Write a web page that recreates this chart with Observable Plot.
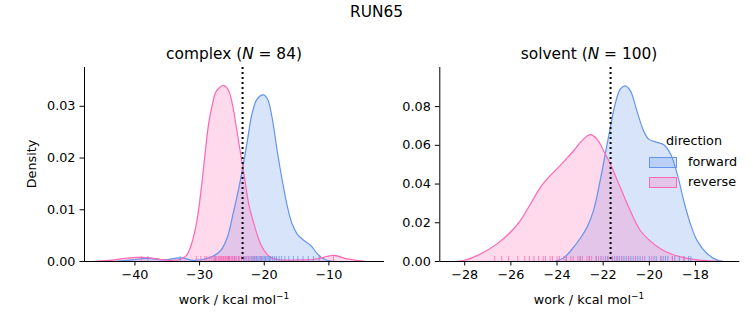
<!DOCTYPE html>
<html>
<head>
<meta charset="utf-8">
<script src="https://cdn.jsdelivr.net/npm/d3@7"></script>
<script src="https://cdn.jsdelivr.net/npm/@observablehq/plot@0.6"></script>
<style>
  body { margin: 0; background: white; }
  #root { position: relative; width: 753px; height: 325px; font-family: "DejaVu Sans", sans-serif; color: black; overflow: hidden; }
  .abs { position: absolute; white-space: nowrap; line-height: 1; }
  .c { transform: translate(-50%, -50%); }
  .lv { transform: translate(0, -50%); }
  sup { font-size: 70%; line-height: 0; vertical-align: 0.55em; }
</style>
</head>
<body>
<div id="root">
  <div id="left" class="abs" style="left:0;top:0"></div>
  <div id="right" class="abs" style="left:395px;top:0"></div>
  <div class="abs c" style="left:376.5px;top:13px;font-size:15.4px">RUN65</div>
  <div class="abs c" style="left:234px;top:54.5px;font-size:15.4px">complex (<i>N</i> = 84)</div>
  <div class="abs c" style="left:589px;top:54.5px;font-size:15.4px">solvent (<i>N</i> = 100)</div>
  <div class="abs c" style="left:31.5px;top:164px;font-size:12.8px;transform:translate(-50%,-50%) rotate(-90deg)">Density</div>
  <div class="abs c" style="left:234px;top:299.5px;font-size:12.8px">work / kcal mol<sup>−1</sup></div>
  <div class="abs c" style="left:589px;top:299.5px;font-size:12.8px">work / kcal mol<sup>−1</sup></div>
  <div class="abs c" style="left:694px;top:141px;font-size:12.8px">direction</div>
  <div class="abs" style="left:649px;top:157px;width:26px;height:9px;background:rgba(100,149,237,0.25);border:1px solid #6495ED"></div>
  <div class="abs" style="left:649px;top:177px;width:26px;height:9px;background:rgba(255,105,180,0.25);border:1px solid #FF69B4"></div>
  <div class="abs lv" style="left:688px;top:162px;font-size:12.8px">forward</div>
  <div class="abs lv" style="left:688px;top:182px;font-size:12.8px">reverse</div>
</div>
<script>
// ---------- data ----------
const colors = { forward: "#6495ED", reverse: "#FF69B4" };

// complex panel: KDE curve points
const complexFwdX = [-43.3, -40.5, -38.1, -35.5, -32.9, -30.9, -28.3, -26.75, -25.7, -24.7, -23.9, -23.4, -22.6, -21.9, -21.1, -20.15, -19.5, -18.8, -18.0, -17.2, -16.4, -15.7, -14.9, -13.9, -12.8, -11.8, -10.8, -9.7, -7.2];
const complexFwdD = [0, 0.0003, 0.0006, 0.0003, 0.0007, 0.0002, 0.0008, 0.0021, 0.0047, 0.0099, 0.0144, 0.0176, 0.0234, 0.0285, 0.0314, 0.0322, 0.0314, 0.0279, 0.0214, 0.0156, 0.0105, 0.0073, 0.0053, 0.0041, 0.0031, 0.0015, 0.0005, 0.0001, 0];
const complexRevX = [-46.5, -44, -41.5, -39.5, -37.6, -35.5, -34, -33, -32, -31.4, -30.6, -30.1, -29.6, -29.1, -28.6, -28.0, -27.5, -26.75, -26.2, -25.5, -24.95, -24.4, -23.9, -23.4, -22.9, -22.4, -21.6, -20.8, -20.0, -19.0, -17.5, -14.9, -12.3, -10.8, -9.2, -7.2, -4.1];
const complexRevD = [0, 0.0002, 0.0006, 0.0008, 0.0007, 0.0003, 0.0002, 0.0004, 0.0012, 0.0028, 0.0066, 0.0105, 0.0156, 0.0214, 0.0266, 0.0305, 0.0327, 0.0338, 0.034, 0.033, 0.0305, 0.0266, 0.0227, 0.0189, 0.015, 0.0111, 0.0073, 0.0041, 0.0021, 0.0008, 0.0003, 0.0003, 0.0004, 0.0008, 0.0012, 0.0005, 0];
const complexVline = -23.35;

// complex panel: rug samples
const complexFwdRug = [-38.0, -33.0, -27.5, -25.5, -24.6, -24.0, -23.5, -23.1, -22.8, -22.5, -22.2, -21.9, -21.7, -21.5, -21.2, -21.0, -20.8, -20.6, -20.4, -20.2, -20.0, -19.8, -19.6, -19.4, -19.2, -19.0, -18.7, -18.4, -18.1, -17.7, -17.3, -16.8, -16.2, -15.5, -14.8, -14.0, -13.2, -12.4, -11.5];
const complexRevRug = [-39.0, -30.5, -29.8, -29.2, -28.9, -28.5, -28.2, -27.9, -27.7, -27.5, -27.3, -27.1, -26.9, -26.8, -26.6, -26.5, -26.3, -26.2, -26.0, -25.9, -25.7, -25.6, -25.4, -25.3, -25.1, -24.9, -24.7, -24.5, -24.3, -24.0, -23.8, -23.5, -23.2, -22.8, -22.4, -21.9, -21.3, -20.5, -9.3];

// solvent panel: KDE curve points
const solventFwdX = [-24.1, -23.7, -23.28, -22.99, -22.70, -22.42, -22.13, -21.91, -21.69, -21.48, -21.26, -21.04, -20.82, -20.54, -20.25, -20.03, -19.66, -19.37, -19.08, -18.79, -18.51, -18.22, -17.93, -17.49, -17.06, -16.77];
const solventFwdD = [0, 0.002, 0.0074, 0.012, 0.0177, 0.0263, 0.0418, 0.0555, 0.0692, 0.0813, 0.089, 0.0907, 0.0881, 0.0778, 0.0675, 0.0632, 0.0615, 0.0603, 0.0555, 0.0451, 0.0314, 0.0194, 0.0108, 0.004, 0.0007, 0];
const solventRevX = [-28.62, -28.04, -27.32, -26.6, -26.02, -25.59, -25.15, -24.72, -24.29, -24.0, -23.6, -23.28, -22.85, -22.56, -22.27, -21.98, -21.69, -21.26, -20.83, -20.39, -19.95, -19.52, -19.08, -18.51, -17.93, -17.21, -16.77];
const solventRevD = [0, 0.0005, 0.0039, 0.0091, 0.0151, 0.0211, 0.0297, 0.0383, 0.0445, 0.0478, 0.053, 0.0572, 0.0632, 0.0655, 0.0632, 0.0572, 0.0504, 0.0383, 0.0263, 0.016, 0.0105, 0.0066, 0.004, 0.002, 0.0008, 0.0002, 0];
const solventVline = -21.68;

// solvent panel: rug samples
const solventFwdRug = [-23.6, -23.0, -22.6, -22.3, -22.1, -21.9, -21.8, -21.6, -21.5, -21.4, -21.3, -21.2, -21.1, -21.0, -20.9, -20.8, -20.7, -20.6, -20.5, -20.4, -20.2, -20.0, -19.8, -19.7, -19.5, -19.4, -19.3, -19.2, -19.0, -18.9, -18.7, -18.5, -18.3, -18.2];
const solventRevRug = [-26.7, -26.4, -26.1, -25.7, -25.4, -25.2, -25.0, -24.8, -24.6, -24.5, -24.3, -24.2, -24.0, -23.9, -23.7, -23.6, -23.4, -23.3, -23.1, -23.0, -22.9, -22.7, -22.6, -22.5, -22.3, -22.2, -22.0, -21.8, -21.6, -21.4, -21.2, -20.9, -20.6, -20.3, -19.9, -19.5, -19.0, -18.5];

// axis settings
const complexXDomain = [-47.8, -1.4];
const complexYDomain = [0, 0.0375];
const complexXTicks = [-40, -30, -20, -10];
const complexYTicks = [0, 0.01, 0.02, 0.03];
const solventXDomain = [-29.08, -16.08];
const solventYDomain = [0, 0.1002];
const solventXTicks = [-28, -26, -24, -22, -20, -18];
const solventYTicks = [0, 0.02, 0.04, 0.06, 0.08];

// ---------- drawing ----------
const zip = (xs, ys) => xs.map((x, i) => ({ x, y: ys[i] }));

function panel(o) {
  const frameH = 325 - o.mt - o.mb;
  const curve = "catmull-rom";
  const series = [
    { pts: zip(o.fx, o.fd), rug: o.frug, color: colors.forward },
    { pts: zip(o.rx, o.rd), rug: o.rrug, color: colors.reverse }
  ];
  const marks = [];
  for (const s of series) {
    marks.push(Plot.areaY(s.pts, { x: "x", y: "y", fill: s.color, fillOpacity: 0.25, curve }));
  }
  for (const s of series) {
    marks.push(Plot.line(s.pts, { x: "x", y: "y", stroke: s.color, strokeWidth: 1.2, curve }));
  }
  for (const s of series) {
    marks.push(Plot.tickX(s.rug, { x: d => d, stroke: s.color, strokeOpacity: 0.8, strokeWidth: 1, insetTop: frameH - 5 }));
  }
  marks.push(Plot.ruleX([o.vline], { stroke: "black", strokeWidth: 2, strokeDasharray: "2,3" }));
  marks.push(Plot.ruleY([o.yDomain[0]], { stroke: "black", strokeWidth: 1 }));
  marks.push(Plot.ruleX([o.xDomain[0]], { stroke: "black", strokeWidth: 1 }));
  marks.push(Plot.axisX({ ticks: o.xTicks, tickSize: 4.5, tickPadding: 3.5, tickFormat: d3.format("d"), label: null }));
  marks.push(Plot.axisY({ ticks: o.yTicks, tickSize: 4.5, tickPadding: 4.5, tickFormat: d3.format(".2f"), label: null }));
  return Plot.plot({
    width: o.w, height: 325,
    marginLeft: o.ml, marginRight: o.mr, marginTop: o.mt, marginBottom: o.mb,
    x: { domain: o.xDomain },
    y: { domain: o.yDomain },
    style: { fontFamily: "DejaVu Sans", fontSize: "12.8px", color: "black", background: "transparent", overflow: "visible" },
    marks
  });
}

document.getElementById("left").appendChild(panel({
  w: 395, ml: 84, mr: 11, mt: 67, mb: 64,
  xDomain: complexXDomain, yDomain: complexYDomain, xTicks: complexXTicks, yTicks: complexYTicks,
  fx: complexFwdX, fd: complexFwdD, rx: complexRevX, rd: complexRevD,
  frug: complexFwdRug, rrug: complexRevRug, vline: complexVline
}));
document.getElementById("right").appendChild(panel({
  w: 358, ml: 44.3, mr: 13.7, mt: 67, mb: 64,
  xDomain: solventXDomain, yDomain: solventYDomain, xTicks: solventXTicks, yTicks: solventYTicks,
  fx: solventFwdX, fd: solventFwdD, rx: solventRevX, rd: solventRevD,
  frug: solventFwdRug, rrug: solventRevRug, vline: solventVline
}));
// legend overlays the right panel (placed after the plots)
const root = document.getElementById("root");
for (const el of Array.from(root.children).slice(2)) root.appendChild(el);
</script>
</body>
</html>
